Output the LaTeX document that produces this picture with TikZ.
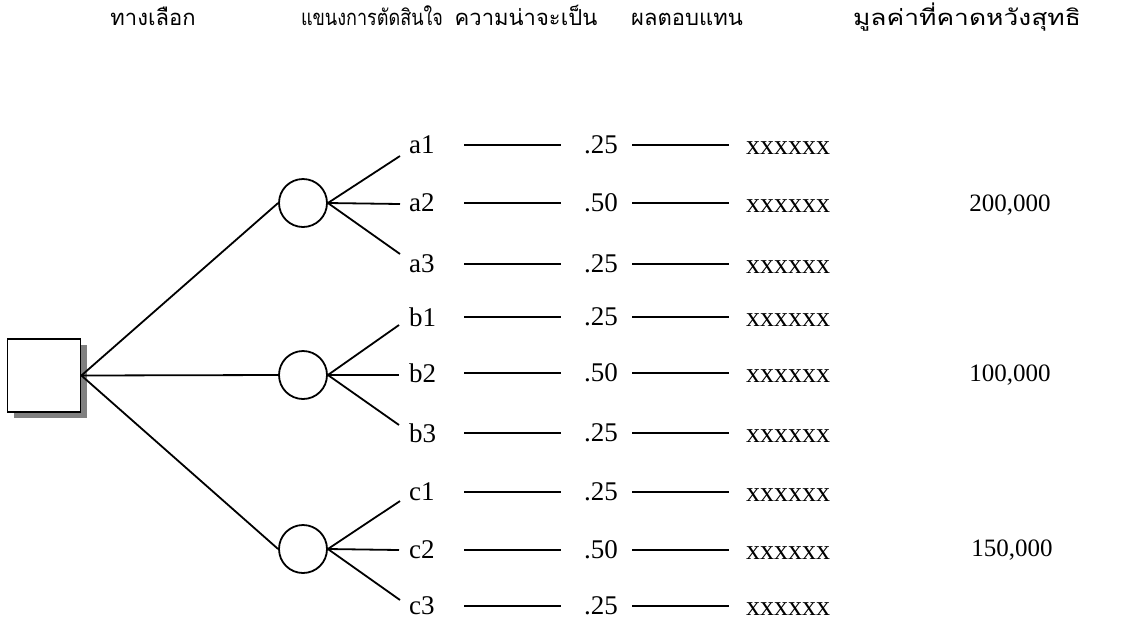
\documentclass[tikz,border=0pt]{standalone}
\usepackage{fontspec}
\setmainfont{Liberation Serif}
\newfontfamily\thai[Script=Thai]{Loma}
\usetikzlibrary{shadows}
\definecolor{shadowgray}{RGB}{128,128,128}
\begin{document}
\begin{tikzpicture}[x=1pt,y=-1pt,
  ln/.style={line width=1.8pt},
  hdr/.style={anchor=base,font=\thai\fontsize{22}{24}\selectfont,inner sep=0},
  decbox/.style={draw,line width=1.8pt,fill=white,minimum size=73pt,inner sep=0,
    drop shadow={shadow xshift=6pt,shadow yshift=-6pt,fill=shadowgray,opacity=1}},
  chance/.style={draw,line width=1.8pt,circle,minimum size=48pt,inner sep=0},
  lab/.style={anchor=west,inner sep=0,text width=55pt,align=left,font=\fontsize{27}{30}\selectfont},
  prob/.style={inner sep=0,minimum width=62pt,font=\fontsize{27}{30}\selectfont},
  pay/.style={inner sep=0,minimum width=118pt,font=\fontsize{28}{30}\selectfont},
  val/.style={inner sep=0,font=\fontsize{25}{28}\selectfont}]
\useasboundingbox (0,0) rectangle (1123,622);

% headers
\node[hdr] (h1) at (153,25) {ทางเลือก};
\node[hdr] (h2) at (372,25) {\scalebox{0.82}[1]{แขนงการตัดสินใจ}};
\node[hdr] (h3) at (526,25) {ความน่าจะเป็น};
\node[hdr] (h4) at (687,25) {ผลตอบแทน};
\node[hdr] (h5) at (967,25) {\scalebox{1.2}[1]{มูลค่าที่คาดหวังสุทธิ}};

% decision box
\node[decbox] (sq) at (44,375.5) {};

% chance nodes
\node[chance] (ca) at (303,203) {};
\node[chance] (cb) at (303,375) {};
\node[chance] (cc) at (303,549) {};

\draw[ln] (sq.east) -- (ca.west);
\draw[ln] (sq.east) -- (cb.west);
\draw[ln] (sq.east) -- (cc.west);

% branch ends
\coordinate (ea1) at (400,156);
\coordinate (ea2) at (400,204);
\coordinate (ea3) at (400,254);
\coordinate (eb1) at (399,325);
\coordinate (eb2) at (399,375);
\coordinate (eb3) at (399,425);
\coordinate (ec1) at (400,501);
\coordinate (ec2) at (399,550);
\coordinate (ec3) at (400,600);

\foreach \b in {1,2,3}{
  \draw[ln] (ca.east) -- (ea\b);
  \draw[ln] (cb.east) -- (eb\b);
  \draw[ln] (cc.east) -- (ec\b);
}

% rows
\foreach \n/\t/\y/\p in {a1/a1/145/.25, a2/a2/203/.50, a3/a3/264/.25,
                         b1/b1/317/.25, b2/b2/373/.50, b3/b3/433/.25,
                         c1/c1/492/.25, c2/c2/550/.50, c3/c3/606/.25}{
  \node[lab] (l\n) at (409,\y) {\t};
  \node[prob] (p\n) at (601,\y) {\p};
  \node[pay] (x\n) at (788,\y+3.5) {xxxxxx};
  \draw[ln,shorten >=9pt] (l\n.east) -- (p\n.west);
  \draw[ln] (p\n.east) -- (x\n.west |- p\n.east);
}

% expected values
\node[val] (va) at (1010,205) {200,000};
\node[val] (vb) at (1010,375) {100,000};
\node[val] (vc) at (1012,550) {150,000};
\end{tikzpicture}
\end{document}
